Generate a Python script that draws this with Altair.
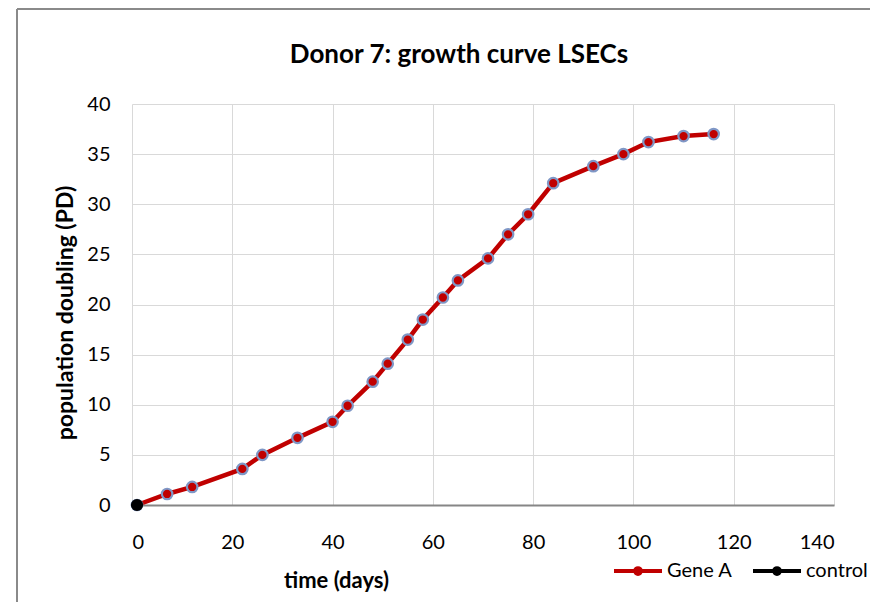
import altair as alt
import pandas as pd

# ---- data ----
gene_days = [1, 7, 12, 22, 26, 33, 40, 43, 48, 51, 55, 58, 62, 65, 71, 75, 79, 84, 92, 98, 103, 110, 116]
gene_pd = [0, 1.1, 1.8, 3.6, 5.0, 6.7, 8.3, 9.9, 12.3, 14.1, 16.5, 18.5, 20.7, 22.4, 24.6, 27.0, 29.0, 32.1, 33.8, 35.0, 36.2, 36.8, 37.0]
control_days = [1]
control_pd = [0]
series_names = ["Gene A", "control"]
series_colors = ["#C00000", "#000000"]
x_ticks = [0, 20, 40, 60, 80, 100, 120, 140]
y_ticks = [0, 5, 10, 15, 20, 25, 30, 35, 40]

df = pd.concat([
    pd.DataFrame({"day": gene_days, "pd": gene_pd, "series": "Gene A"}),
    pd.DataFrame({"day": control_days, "pd": control_pd, "series": "control"}),
], ignore_index=True)

FONT = "Lato"
W, H = 702, 401

legend_symbol = "M-1,0L1,0M0.12,0A0.12,0.12 0 1 1 -0.12,0A0.12,0.12 0 1 1 0.12,0"

x_enc = alt.X("day:Q", scale=alt.Scale(domain=[0, 140], nice=False),
              axis=alt.Axis(values=x_ticks, title="time (days)", grid=True,
                            ticks=False, labelPadding=27, domainColor="#868686", domainWidth=2,
                            titleFontSize=22,
                            titleX=204, titleY=75, titleBaseline="middle", titleAlign="center",
                            titleAnchor=None))
y_enc = alt.Y("pd:Q", scale=alt.Scale(domain=[0, 40], nice=False),
              axis=alt.Axis(values=y_ticks, title="population doubling (PD)", grid=True,
                            ticks=False, domain=False, labelPadding=22, titleFontSize=23,
                            titleX=-67, titleY=H / 2 + 8, titleBaseline="middle", titleAlign="center"))

base = alt.Chart(df)

line = base.mark_line(strokeWidth=4.5).encode(
    x=x_enc, y=y_enc,
    color=alt.Color("series:N",
                    scale=alt.Scale(domain=series_names, range=series_colors),
                    legend=alt.Legend(title=None, orient="none", direction="horizontal",
                                      legendX=480, legendY=441,
                                      symbolType=legend_symbol, symbolSize=2304,
                                      symbolStrokeWidth=4, labelFontSize=20,
                                      labelFont=FONT, labelColor="#000000",
                                      labelOffset=3, columnPadding=12)),
    order="day:Q",
)

gene_points = base.transform_filter(alt.datum.series == "Gene A").mark_point(
    filled=True, size=110, fill="#C00000", stroke="#7F97C6", strokeWidth=2.2, opacity=1
).encode(x="day:Q", y="pd:Q")

control_points = base.transform_filter(alt.datum.series == "control").mark_point(
    filled=True, size=150, fill="#000000", opacity=1
).encode(x="day:Q", y="pd:Q")

frame = alt.Chart(pd.DataFrame({"a": [0]}))
left_border = frame.mark_rule(color="#8a8a8a", strokeWidth=2).encode(
    x=alt.value(-115), y=alt.value(-95), y2=alt.value(H + 97))
top_border = frame.mark_rule(color="#8a8a8a", strokeWidth=2).encode(
    y=alt.value(-95), x=alt.value(-115), x2=alt.value(W + 36))

chart = alt.layer(left_border, top_border, line, gene_points, control_points).properties(
    width=W, height=H,
    autosize=alt.AutoSizeParams(type="none"),
    padding={"left": 124, "top": 96, "right": 36, "bottom": 97},
    title=alt.TitleParams("Donor 7: growth curve LSECs", font=FONT, fontSize=26,
                          fontWeight="bold", color="#000000", anchor="middle",
                          frame="group", dx=-24, dy=60, offset=0),
).configure_axis(
    labelFont=FONT, labelFontSize=20, labelColor="#000000",
    titleFont=FONT, titleFontSize=20, titleFontWeight="bold", titleColor="#000000",
    gridColor="#d9d9d9", gridWidth=1,
).configure_view(stroke=None)

chart.save("out.html", embed_options={"renderer": "svg", "actions": False})
